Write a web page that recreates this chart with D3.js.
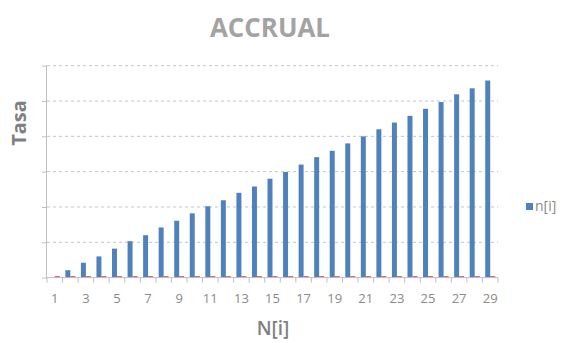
<!DOCTYPE html>
<html>
<head>
<meta charset="utf-8">
<script src="https://cdn.jsdelivr.net/npm/d3@7"></script>
<style>
  html, body { margin: 0; padding: 0; background: #ffffff; }
  svg { display: block; }
</style>
</head>
<body>
<svg id="chart" width="562" height="343"></svg>
<script>
// ---- data ----
const categories = ["1","2","3","4","5","6","7","8","9","10","11","12","13","14","15","16","17","18","19","20","21","22","23","24","25","26","27","28","29"];
const seriesNames = ["n[i]", "r[i]"];
const nValues = [0, 0.21, 0.42, 0.60, 0.82, 1.03, 1.20, 1.42, 1.61, 1.82, 2.02, 2.19, 2.40, 2.58, 2.80, 2.99, 3.20, 3.41, 3.59, 3.80, 4.00, 4.20, 4.39, 4.58, 4.78, 4.97, 5.19, 5.36, 5.58];
const rValues = [0.04, 0.04, 0.04, 0.04, 0.04, 0.04, 0.04, 0.04, 0.04, 0.04, 0.04, 0.04, 0.04, 0.04, 0.04, 0.04, 0.04, 0.04, 0.04, 0.04, 0.04, 0.04, 0.04, 0.04, 0.04, 0.04, 0.04, 0.04, 0.04];
const yTicks = [0, 1, 2, 3, 4, 5, 6];
const xTickLabels = ["1","3","5","7","9","11","13","15","17","19","21","23","25","27","29"];
const legendSeries = ["n[i]"];

(function () {
const colors = { "n[i]": "#4f81bd", "r[i]": "#c0504d" };
const font = "'Open Sans', 'Liberation Sans', sans-serif";

const svg = d3.select("#chart");
const mLeft = 47, mRight = 498, mTop = 65.7, mBottom = 277.6;

const x = d3.scaleBand().domain(categories).range([mLeft, mRight]).padding(0);
const xInner = d3.scaleBand().domain(seriesNames)
  .range([x.bandwidth() * 0.18, x.bandwidth() * 0.82]).padding(0);
const y = d3.scaleLinear().domain([0, 6]).range([mBottom, mTop]);

// gridlines
svg.append("g").selectAll("line").data(yTicks.filter(d => d > 0)).join("line")
  .attr("x1", mLeft).attr("x2", mRight)
  .attr("y1", d => y(d)).attr("y2", d => y(d))
  .attr("stroke", "#c4c4c4").attr("stroke-width", 1)
  .attr("stroke-dasharray", "3,3");

// bars
const rows = categories.map((c, i) => ({ cat: c, vals: [
  { s: "n[i]", v: nValues[i] }, { s: "r[i]", v: rValues[i] } ] }));

const groups = svg.append("g").selectAll("g").data(rows).join("g")
  .attr("transform", d => `translate(${x(d.cat)},0)`);
groups.selectAll("rect").data(d => d.vals).join("rect")
  .attr("x", d => xInner(d.s))
  .attr("width", xInner.bandwidth())
  .attr("y", d => y(d.v))
  .attr("height", d => y(0) - y(d.v))
  .attr("fill", d => colors[d.s]);

// y axis (no labels)
const yAxis = svg.append("g").attr("transform", `translate(${mLeft},0)`)
  .call(d3.axisLeft(y).tickValues(yTicks).tickSize(5).tickFormat(""));
yAxis.select(".domain").attr("stroke", "#bfbfbf").attr("d", `M-0.5,${mTop}V${mBottom}`);
yAxis.selectAll(".tick line").attr("stroke", "#bfbfbf");

// x axis
const xAxis = svg.append("g").attr("transform", `translate(0,${mBottom})`);
xAxis.append("line").attr("x1", mLeft).attr("x2", mRight).attr("y1", 0).attr("y2", 0)
  .attr("stroke", "#bfbfbf");
const boundaries = categories.map(c => x(c)).concat([x(categories[categories.length - 1]) + x.bandwidth()]);
xAxis.selectAll("line.tk").data(boundaries).join("line").attr("class", "tk")
  .attr("x1", d => d).attr("x2", d => d).attr("y1", 0).attr("y2", 5)
  .attr("stroke", "#bfbfbf");
xAxis.selectAll("text").data(xTickLabels).join("text")
  .attr("x", d => x(d) + x.bandwidth() / 2)
  .attr("y", 25)
  .attr("text-anchor", "middle")
  .attr("font-family", font).attr("font-size", 13)
  .attr("fill", "#8a8a8a")
  .text(d => d);

// title
svg.append("text").attr("x", 270).attr("y", 37)
  .attr("text-anchor", "middle")
  .attr("font-family", font).attr("font-weight", "bold").attr("font-size", 27)
  .attr("textLength", 120).attr("lengthAdjust", "spacingAndGlyphs")
  .attr("fill", "#a3a3a3").text("ACCRUAL");

// axis titles
svg.append("text")
  .attr("transform", "translate(26,123) rotate(-90)")
  .attr("text-anchor", "middle")
  .attr("font-family", font).attr("font-weight", "bold").attr("font-size", 20)
  .attr("fill", "#808080").text("Tasa");
svg.append("text").attr("x", 273).attr("y", 335)
  .attr("text-anchor", "middle")
  .attr("font-family", font).attr("font-weight", "600").attr("font-size", 19)
  .attr("fill", "#808080").text("N[i]");

// legend
const lg = svg.append("g").selectAll("g").data(legendSeries).join("g")
  .attr("transform", "translate(526,203)");
lg.append("rect").attr("width", 7).attr("height", 7).attr("fill", d => colors[d]);
lg.append("text").attr("x", 9).attr("y", 8)
  .attr("font-family", font).attr("font-size", 14)
  .attr("fill", "#8a8a8a").text(d => d);
})();
</script>
</body>
</html>
